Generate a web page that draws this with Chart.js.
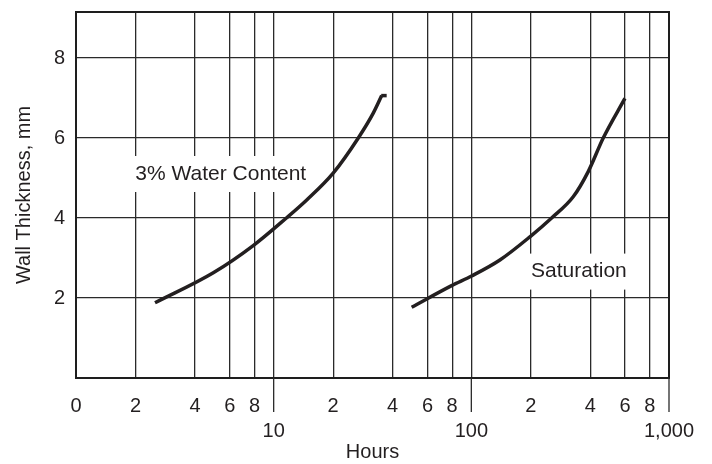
<!DOCTYPE html>
<html>
<head>
<meta charset="utf-8">
<script src="https://cdn.jsdelivr.net/npm/chart.js@4.4.1/dist/chart.umd.min.js"></script>
<style>
  body { margin: 0; background: #fff; }
</style>
</head>
<body>
<canvas id="chart" width="712" height="464"></canvas>
<script>
// water content curve (hours, mm)
const waterHours = [2.51, 4.95, 7.88, 11.6, 14.7, 20.0, 26.8, 31.9, 35.2];
const waterMm = [1.88, 2.63, 3.31, 4.0, 4.45, 5.12, 6.0, 6.62, 7.06];
// short flat stroke at the top end of that curve
const capHours = [35.0, 37.3];
const capMm = [7.06, 7.06];

// saturation curve
const satHours = [49.9, 79.5, 100.3, 139.5, 197.9, 254.8, 327.6, 390.3, 464.8, 598.4];
const satMm = [1.77, 2.31, 2.55, 2.95, 3.53, 4.0, 4.53, 5.16, 6.0, 6.99];

const xTicks = [1, 2, 4, 6, 8, 10, 20, 40, 60, 80, 100, 200, 400, 600, 800, 1000];
const decadeTicks = [10, 100, 1000];
const yTicks = [0, 2, 4, 6, 8];

const labels = [
  { text: '3% Water Content', x: 5.4, y: 5.1, pad: 5 },
  { text: 'Saturation', x: 350, y: 2.66, pad: 6 }
];

const ink = '#231f20';
const fontFamily = "'Liberation Sans', Arial, Helvetica, sans-serif";

function toPoints(xs, ys) {
  return xs.map((x, i) => ({ x: x, y: ys[i] }));
}

function tickLabel(v) {
  if (v === 1) return '0';
  if (v === 1000) return ['', '1,000'];
  if (decadeTicks.includes(v)) return ['', String(v)];
  const d = Math.pow(10, Math.floor(Math.log10(v) + 1e-9));
  return String(Math.round(v / d));
}

const extras = {
  id: 'extras',
  beforeDatasetsDraw(chart) {
    const { ctx, chartArea: a, scales } = chart;
    ctx.save();
    // text labels with white backing that cuts the grid
    ctx.font = '21px ' + fontFamily;
    ctx.textAlign = 'center';
    ctx.textBaseline = 'middle';
    labels.forEach(l => {
      const cx = scales.x.getPixelForValue(l.x);
      const cy = scales.y.getPixelForValue(l.y);
      const w = ctx.measureText(l.text).width;
      ctx.fillStyle = '#fff';
      ctx.fillRect(cx - w / 2 - l.pad, cy - 18, w + l.pad * 2, 36);
      ctx.fillStyle = ink;
      ctx.fillText(l.text, cx, cy);
    });
    // frame
    ctx.strokeStyle = '#1e1e1e';
    ctx.lineWidth = 2;
    ctx.strokeRect(a.left, a.top, a.right - a.left, a.bottom - a.top);
    // long ticks at decades
    ctx.lineWidth = 1.3;
    ctx.strokeStyle = '#2a2a2a';
    decadeTicks.forEach(v => {
      const x = scales.x.getPixelForValue(v);
      ctx.beginPath();
      ctx.moveTo(x, a.bottom);
      ctx.lineTo(x, a.bottom + 34);
      ctx.stroke();
    });
    ctx.restore();
  }
};

const curve = {
  borderColor: ink,
  borderWidth: 3.5,
  pointRadius: 0,
  cubicInterpolationMode: 'monotone'
};

new Chart(document.getElementById('chart'), {
  type: 'line',
  data: {
    datasets: [
      Object.assign({ label: '3% Water Content', data: toPoints(waterHours, waterMm) }, curve),
      Object.assign({ label: 'cap', data: toPoints(capHours, capMm) }, curve),
      Object.assign({ label: 'Saturation', data: toPoints(satHours, satMm) }, curve)
    ]
  },
  options: {
    responsive: false,
    animation: false,
    devicePixelRatio: 1,
    layout: { padding: { left: 0, right: 43, top: 12, bottom: 0 } },
    plugins: { legend: { display: false }, tooltip: { enabled: false } },
    scales: {
      x: {
        type: 'logarithmic',
        min: 1,
        max: 1000,
        afterBuildTicks: s => { s.ticks = xTicks.map(v => ({ value: v })); },
        afterFit: s => { s.height = 86; s.paddingLeft = 0; s.paddingRight = 0; },
        grid: { color: '#2a2a2a', lineWidth: 1.3, drawTicks: false },
        border: { color: '#1e1e1e', width: 2 },
        ticks: {
          autoSkip: false,
          maxRotation: 0,
          minRotation: 0,
          padding: 16,
          color: ink,
          font: { family: fontFamily, size: 20, lineHeight: 1.25 },
          callback: v => tickLabel(v)
        },
        title: {
          display: true,
          text: 'Hours',
          color: ink,
          font: { family: fontFamily, size: 20 },
          padding: { top: 0, bottom: 0 }
        }
      },
      y: {
        min: 0,
        max: 9.15,
        afterBuildTicks: s => { s.ticks = yTicks.map(v => ({ value: v })); },
        afterFit: s => { s.width = 76; s.paddingTop = 0; s.paddingBottom = 0; },
        grid: { color: '#2a2a2a', lineWidth: 1.3, drawTicks: false },
        border: { color: '#1e1e1e', width: 2 },
        ticks: {
          padding: 11,
          color: ink,
          font: { family: fontFamily, size: 20 },
          callback: v => (v === 0 ? '' : String(v))
        },
        title: {
          display: true,
          text: 'Wall Thickness, mm',
          color: ink,
          font: { family: fontFamily, size: 20 },
          padding: { top: 12, bottom: 0 }
        }
      }
    }
  },
  plugins: [extras]
});
</script>
</body>
</html>
